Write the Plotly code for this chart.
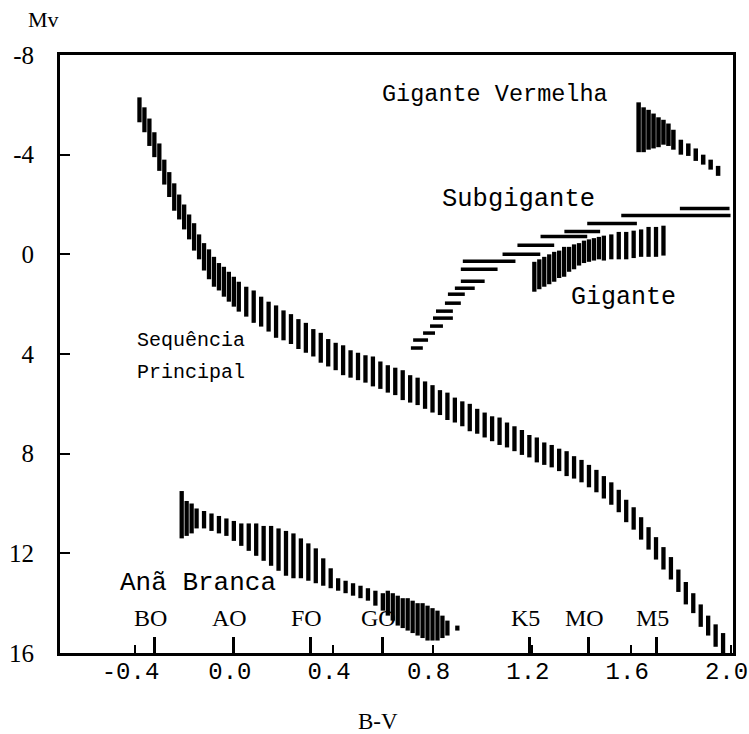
import plotly.graph_objects as go

# ---------------- data ----------------
# Main sequence: B-V, Mv (centre of bar), half-length of bar (mag)
ms_bv = [-0.38, -0.36, -0.34, -0.32, -0.30, -0.28, -0.26, -0.24, -0.22, -0.20,
         -0.18, -0.16, -0.14, -0.12, -0.10, -0.08, -0.06, -0.04, -0.02, 0.00,
         0.02, 0.05, 0.08, 0.11, 0.14, 0.17, 0.20, 0.23, 0.26, 0.29,
         0.32, 0.35, 0.38, 0.41, 0.44, 0.47, 0.50, 0.53, 0.56, 0.59,
         0.62, 0.65, 0.68, 0.71, 0.74, 0.77, 0.80, 0.83, 0.86, 0.89,
         0.92, 0.95, 0.98, 1.01, 1.04, 1.07, 1.10, 1.13, 1.16, 1.19,
         1.22, 1.25, 1.28, 1.31, 1.34, 1.37, 1.40, 1.43, 1.46, 1.49,
         1.52, 1.55, 1.58, 1.61, 1.64, 1.67, 1.70, 1.73, 1.76, 1.79,
         1.82, 1.85, 1.88, 1.91, 1.94, 1.97]
ms_mv = [-5.8, -5.4, -4.9, -4.4, -3.9, -3.3, -2.8, -2.3, -1.9, -1.5,
         -1.1, -0.7, -0.3, 0.1, 0.4, 0.7, 0.9, 1.1, 1.3, 1.5,
         1.7, 1.9, 2.1, 2.3, 2.5, 2.7, 2.85, 3.0, 3.2, 3.35,
         3.55, 3.75, 3.95, 4.1, 4.25, 4.4, 4.5, 4.6, 4.7, 4.85,
         5.0, 5.1, 5.25, 5.4, 5.5, 5.65, 5.8, 5.95, 6.1, 6.25,
         6.4, 6.55, 6.7, 6.85, 7.0, 7.1, 7.25, 7.4, 7.55, 7.7,
         7.85, 8.0, 8.1, 8.25, 8.4, 8.55, 8.7, 8.9, 9.1, 9.35,
         9.6, 9.9, 10.3, 10.6, 11.0, 11.4, 11.8, 12.2, 12.6, 13.1,
         13.6, 14.0, 14.5, 14.9, 15.3, 15.6]
ms_half = [0.5, 0.5, 0.55, 0.5, 0.55, 0.5, 0.5, 0.55, 0.5, 0.5,
           0.5, 0.55, 0.5, 0.55, 0.6, 0.6, 0.55, 0.6, 0.6, 0.6,
           0.6, 0.6, 0.65, 0.6, 0.6, 0.65, 0.6, 0.6, 0.6, 0.6,
           0.55, 0.6, 0.55, 0.55, 0.6, 0.55, 0.55, 0.55, 0.6, 0.55,
           0.55, 0.55, 0.6, 0.55, 0.55, 0.55, 0.55, 0.5, 0.55, 0.5,
           0.5, 0.55, 0.5, 0.5, 0.5, 0.55, 0.5, 0.5, 0.5, 0.45,
           0.5, 0.45, 0.45, 0.45, 0.5, 0.45, 0.45, 0.45, 0.45, 0.45,
           0.45, 0.45, 0.45, 0.45, 0.45, 0.45, 0.45, 0.45, 0.45, 0.45,
           0.45, 0.4, 0.45, 0.4, 0.45, 0.4]

# White dwarfs (Anã Branca)
wd_bv = [-0.21, -0.19, -0.17, -0.15, -0.12, -0.09, -0.06, -0.03, 0.00, 0.03,
         0.06, 0.09, 0.12, 0.15, 0.18, 0.21, 0.24, 0.27, 0.30, 0.33,
         0.36, 0.39, 0.42, 0.45, 0.48, 0.51, 0.54, 0.57, 0.60, 0.62,
         0.64, 0.66, 0.68, 0.70, 0.72, 0.74, 0.76, 0.78, 0.80, 0.82,
         0.84, 0.86, 0.90]
wd_mv = [10.45, 10.6, 10.6, 10.6, 10.65, 10.75, 10.85, 10.95, 11.1, 11.25,
         11.35, 11.45, 11.6, 11.7, 11.85, 12.0, 12.1, 12.2, 12.35, 12.5,
         12.75, 13.0, 13.25, 13.35, 13.45, 13.55, 13.65, 13.8, 13.95, 14.0,
         14.15, 14.3, 14.4, 14.45, 14.55, 14.65, 14.7, 14.8, 14.85, 14.9,
         14.95, 15.0, 15.0]
wd_half = [0.95, 0.7, 0.6, 0.4, 0.35, 0.35, 0.35, 0.35, 0.4, 0.45,
           0.55, 0.65, 0.7, 0.8, 0.85, 0.9, 0.9, 0.8, 0.75, 0.7,
           0.55, 0.4, 0.25, 0.25, 0.25, 0.25, 0.25, 0.3, 0.35, 0.5,
           0.55, 0.6, 0.6, 0.65, 0.65, 0.65, 0.7, 0.7, 0.65, 0.6,
           0.45, 0.3, 0.1]

# Giants (Gigante)
gi_bv = [1.21, 1.23, 1.25, 1.27, 1.29, 1.31, 1.33, 1.35, 1.37, 1.39,
         1.41, 1.43, 1.45, 1.47, 1.49, 1.52, 1.55, 1.58, 1.61, 1.64,
         1.67, 1.70, 1.73]
gi_mv = [0.9, 0.8, 0.7, 0.6, 0.5, 0.4, 0.3, 0.2, 0.1, 0.0,
         -0.1, -0.15, -0.2, -0.25, -0.25, -0.3, -0.35, -0.35, -0.4, -0.45,
         -0.5, -0.5, -0.55]
gi_half = [0.6, 0.6, 0.6, 0.6, 0.6, 0.55, 0.6, 0.5, 0.5, 0.45,
           0.45, 0.45, 0.45, 0.45, 0.5, 0.5, 0.55, 0.55, 0.55, 0.55,
           0.6, 0.6, 0.6]

# Red giants (Gigante Vermelha)
rg_bv = [1.63, 1.65, 1.67, 1.69, 1.71, 1.73, 1.75, 1.77, 1.80, 1.83,
         1.86, 1.89, 1.92, 1.95]
rg_mv = [-5.1, -5.0, -5.0, -4.95, -4.9, -4.9, -4.8, -4.6, -4.3, -4.2,
         -4.0, -3.8, -3.6, -3.35]
rg_half = [1.0, 0.9, 0.8, 0.7, 0.6, 0.5, 0.45, 0.4, 0.3, 0.25,
           0.25, 0.2, 0.2, 0.2]

# Subgiants (Subgigante): horizontal dashes, centre B-V, half-width, Mv
sg_bv = [0.737, 0.752, 0.786, 0.816, 0.842, 0.848, 0.882, 0.896, 0.930, 0.962,
         0.988, 1.028, 1.158, 1.216, 1.329, 1.403, 1.523, 1.780, 1.896]
sg_halfw = [0.024, 0.030, 0.024, 0.026, 0.040, 0.034, 0.032, 0.034, 0.040, 0.048,
            0.074, 0.106, 0.076, 0.074, 0.094, 0.072, 0.100, 0.220, 0.100]
sg_mv = [3.76, 3.44, 3.16, 2.88, 2.56, 2.28, 1.96, 1.60, 1.36, 1.08,
         0.60, 0.28, 0.00, -0.36, -0.72, -0.92, -1.24, -1.56, -1.84]

# Spectral types marked on the B-V axis
spec_names = ["BO", "AO", "FO", "GO", "K5", "MO", "M5"]
spec_bv = [-0.32, 0.00, 0.31, 0.60, 1.19, 1.43, 1.70]

# Axis ticks
x_ticks = [-0.4, 0.0, 0.4, 0.8, 1.2, 1.6, 2.0]
x_ticktext = ["-0.4", "0.0", "0.4", "0.8", "1.2", "1.6", "2.0"]
y_ticks = [-8, -4, 0, 4, 8, 12, 16]
y_ticktext = ["-8", "-4", "0", "4", "8", "12", "16"]

# Region labels: text, B-V, Mv
region_text = ["Gigante Vermelha", "Subgigante", "Gigante", "Sequência", "Principal", "Anã Branca"]
region_bv = [0.59, 0.83, 1.35, -0.40, -0.40, -0.465]
region_mv = [-6.4, -2.2, 1.75, 3.45, 4.75, 13.2]
region_size = [23.5, 25.5, 25, 20, 20, 26]

# ---------------- figure ----------------
MONO = "Liberation Mono"
SERIF = "Liberation Serif"
fig = go.Figure()


def vbars(bv, mv, half, thick):
    return go.Scatter(
        x=bv, y=mv, mode="markers",
        marker=dict(size=2, color="black"),
        error_y=dict(type="data", symmetric=True, array=half,
                     width=0, thickness=thick, color="black"),
        hoverinfo="skip", showlegend=False)


fig.add_trace(vbars(ms_bv, ms_mv, ms_half, 4.3))
fig.add_trace(vbars(wd_bv, wd_mv, wd_half, 4.3))
fig.add_trace(vbars(gi_bv, gi_mv, gi_half, 4.3))
fig.add_trace(vbars(rg_bv, rg_mv, rg_half, 4.5))

fig.add_trace(go.Scatter(
    x=sg_bv, y=sg_mv, mode="markers",
    marker=dict(size=2, color="black"),
    error_x=dict(type="data", symmetric=True, array=sg_halfw,
                 width=0, thickness=3.5, color="black"),
    hoverinfo="skip", showlegend=False))

# invisible trace on xaxis2 so that the spectral-type tick axis is drawn
fig.add_trace(go.Scatter(x=[spec_bv[0]], y=[0], xaxis="x2", mode="markers",
                         marker=dict(size=0, opacity=0), hoverinfo="skip",
                         showlegend=False))

for t, xv, yv, s in zip(region_text, region_bv, region_mv, region_size):
    fig.add_annotation(x=xv, y=yv, text=t, showarrow=False, xanchor="left",
                       yanchor="middle", font=dict(family=MONO, size=s, color="black"))

for name, xv in zip(spec_names, spec_bv):
    fig.add_annotation(x=xv, y=14.6, text=name, showarrow=False, xanchor="center",
                       yanchor="middle", xshift=-4,
                       font=dict(family=SERIF, size=24, color="black"))

fig.add_annotation(xref="paper", yref="paper", x=-0.024, y=1.06, text="Mv",
                   xanchor="center", yanchor="middle",
                   showarrow=False, font=dict(family=SERIF, size=22, color="black"))
fig.add_annotation(xref="paper", yref="paper", x=0.4725, y=-0.115, text="B-V",
                   xanchor="center", yanchor="middle",
                   showarrow=False, font=dict(family=SERIF, size=23, color="black"))

fig.update_layout(
    width=749, height=734,
    margin=dict(l=60, r=16, t=55, b=81),
    paper_bgcolor="white", plot_bgcolor="white",
    showlegend=False,
    xaxis=dict(range=[-0.7, 2.01], tickvals=x_ticks, ticktext=x_ticktext,
               ticks="inside", ticklen=8, tickwidth=2, tickcolor="black",
               showline=True, linewidth=3, linecolor="black", mirror=True,
               showgrid=False, zeroline=False, ticklabelstandoff=-6,
               ticklabelshift=-4, ticklabeloverflow="allow", automargin=False,
               tickfont=dict(family=MONO, size=24, color="black")),
    xaxis2=dict(range=[-0.7, 2.01], overlaying="x", anchor="y", side="bottom",
                tickvals=spec_bv, ticks="inside", ticklen=16, tickwidth=3,
                tickcolor="black", showticklabels=False, showline=False,
                showgrid=False, zeroline=False, automargin=False),
    yaxis=dict(range=[16, -8], tickvals=y_ticks, ticktext=y_ticktext,
               ticks="inside", ticklen=10, tickwidth=2, tickcolor="black",
               showline=True, linewidth=3, linecolor="black", mirror=True,
               showgrid=False, zeroline=False, ticklabelstandoff=18,
               automargin=False,
               tickfont=dict(family=SERIF, size=25, color="black")),
)

fig.write_html("out.html")
